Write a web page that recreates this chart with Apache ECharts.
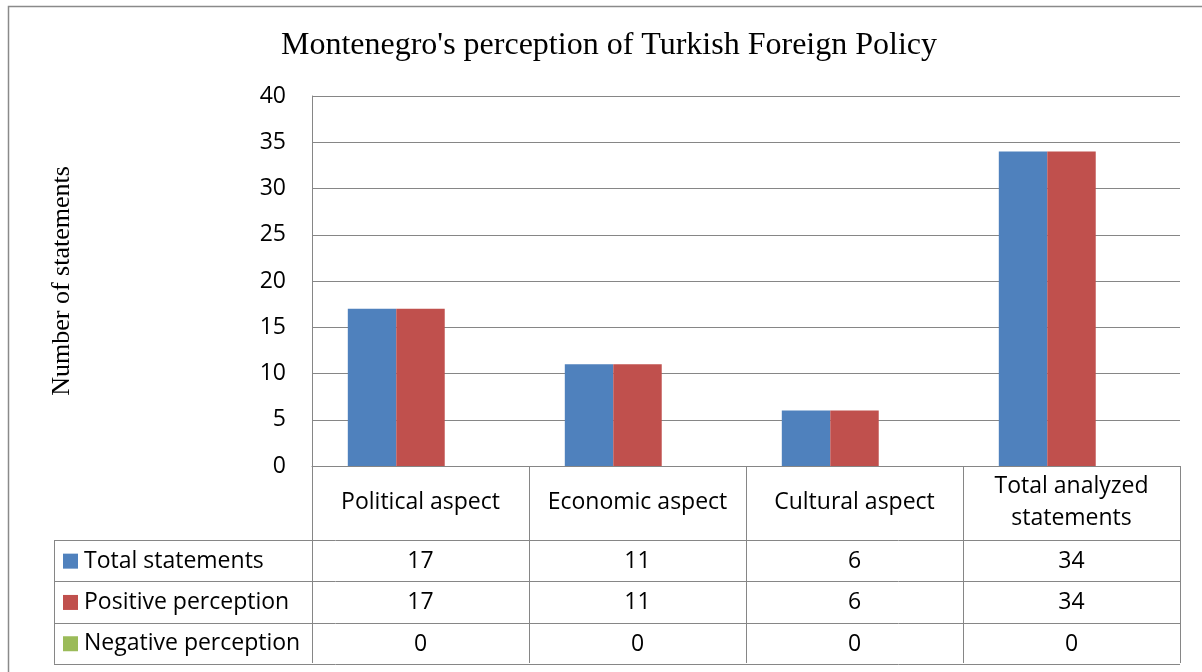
<!DOCTYPE html>
<html>
<head>
<meta charset="utf-8">
<script src="https://cdn.jsdelivr.net/npm/echarts@6/dist/echarts.min.js"></script>
<style>
  html, body { margin: 0; padding: 0; background: #fff; }
  #chart { width: 1202px; height: 672px; }
</style>
</head>
<body>
<div id="chart"></div>
<script>
// data
var categories = ["Political aspect", "Economic aspect", "Cultural aspect", "Total analyzed\nstatements"];
var seriesNames = ["Total statements", "Positive perception", "Negative perception"];
var totalStatements = [17, 11, 6, 34];
var positivePerception = [17, 11, 6, 34];
var negativePerception = [0, 0, 0, 0];
var yTicks = [0, 5, 10, 15, 20, 25, 30, 35, 40];

var colors = ["#4F81BD", "#C0504D", "#9BBB59"];
var lineColor = "#868686";
var sans = "Open Sans";
var serif = "Liberation Serif";

var gridTop = 96, gridBottom = 206, gridLeft = 312, gridRight = 22;
var rowTop = 540, rowH = 41.3, tableLeft = 54;

var chart = echarts.init(document.getElementById("chart"));

// one legend per table row so each sits in its own row
var legends = seriesNames.map(function (name, i) {
  return {
    orient: "vertical",
    left: 63,
    top: rowTop + i * rowH + rowH / 2 - 11,
    padding: 0,
    icon: "rect",
    itemWidth: 15,
    itemHeight: 15,
    itemGap: 0,
    selectedMode: false,
    data: [name],
    textStyle: { fontFamily: sans, fontSize: 23, lineHeight: 22, color: "#000", padding: [0, 0, 0, 1] }
  };
});

var option = {
  animation: false,
  color: colors,
  title: {
    text: "Montenegro's perception of Turkish Foreign Policy",
    left: 604,
    textAlign: "center",
    top: 25,
    textStyle: { fontFamily: serif, fontSize: 32, fontWeight: "normal", color: "#000" }
  },
  legend: legends,
  grid: { left: gridLeft, right: gridRight, top: gridTop, bottom: gridBottom },
  xAxis: {
    type: "category",
    data: categories,
    axisLine: { show: true, lineStyle: { color: lineColor, width: 1 } },
    axisTick: { show: true, interval: 0, length: 197, lineStyle: { color: lineColor, width: 1 } },
    axisLabel: {
      interval: 0,
      margin: 36,
      verticalAlign: "middle",
      fontFamily: sans,
      fontSize: 23,
      lineHeight: 32,
      color: "#000"
    }
  },
  yAxis: {
    type: "value",
    min: yTicks[0],
    max: yTicks[yTicks.length - 1],
    interval: 5,
    name: "Number of statements",
    nameLocation: "middle",
    nameRotate: 90,
    nameGap: 237,
    nameTextStyle: { fontFamily: serif, fontSize: 26, color: "#000" },
    axisLine: { show: true, lineStyle: { color: lineColor, width: 1 } },
    axisTick: { show: false },
    axisLabel: { margin: 26, fontFamily: sans, fontSize: 23, color: "#000" },
    splitLine: { lineStyle: { color: lineColor, width: 1 } }
  },
  series: [
    { name: seriesNames[0], type: "bar", data: totalStatements, barGap: "0%", barCategoryGap: "33%" },
    { name: seriesNames[1], type: "bar", data: positivePerception, barGap: "0%", barCategoryGap: "33%" },
    { name: seriesNames[2], type: "bar", data: negativePerception, barGap: "0%", barCategoryGap: "33%" }
  ]
};

chart.setOption(option);

// data table under the axis
var rows = [totalStatements, positivePerception, negativePerception];
var graphics = [];
// outer chart border
graphics.push({
  type: "rect",
  shape: { x: 8.5, y: 6.5, width: 1220, height: 700 },
  style: { fill: null, stroke: "#8a8a8a", lineWidth: 1.5 },
  silent: true
});
var tableRight = 1202 - gridRight;
for (var r = 0; r <= rows.length; r++) {
  var yy = Math.round(rowTop + r * rowH) + 0.5;
  graphics.push({
    type: "line",
    shape: { x1: tableLeft, y1: yy, x2: tableRight, y2: yy },
    style: { stroke: lineColor, lineWidth: 1 },
    silent: true
  });
}
graphics.push({
  type: "line",
  shape: { x1: tableLeft + 0.5, y1: rowTop, x2: tableLeft + 0.5, y2: rowTop + rows.length * rowH },
  style: { stroke: lineColor, lineWidth: 1 },
  silent: true
});
rows.forEach(function (vals, r) {
  vals.forEach(function (v, c) {
    var px = chart.convertToPixel({ xAxisIndex: 0 }, categories[c]);
    graphics.push({
      type: "text",
      x: px,
      y: rowTop + r * rowH + rowH / 2 + 1,
      style: {
        text: String(v),
        fontFamily: sans,
        fontSize: 23,
        fill: "#000",
        align: "center",
        verticalAlign: "middle"
      },
      silent: true
    });
  });
});

chart.setOption({ graphic: graphics });
</script>
</body>
</html>
